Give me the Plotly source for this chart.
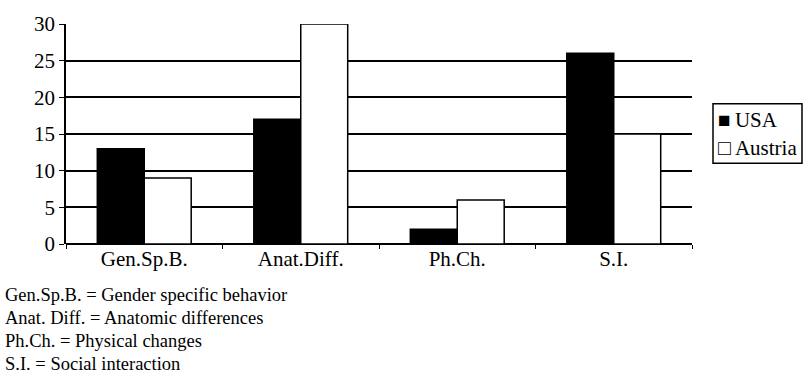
import plotly.graph_objects as go

categories = ["Gen.Sp.B.", "Anat.Diff.", "Ph.Ch.", "S.I."]
usa = [13, 17, 2, 26]
austria = [9, 30, 6, 15]
y_ticks = [0, 5, 10, 15, 20, 25, 30]
series_names = ["USA", "Austria"]
series_symbols = ["■", "□"]
footnotes = [
    "Gen.Sp.B. = Gender specific behavior",
    "Anat. Diff. = Anatomic differences",
    "Ph.Ch. = Physical changes",
    "S.I. = Social interaction",
]

FONT = "Liberation Serif"
L, R, T, B = 66, 111, 15, 148
PW, PH = 803 - L - R, 392 - T - B


def px_x(x):
    return (x - L) / PW


def px_y(y):
    return (392 - B - y) / PH


fig = go.Figure()
fig.add_trace(go.Bar(x=categories, y=usa, name=series_names[0],
                     marker=dict(color="black", line=dict(color="black", width=1.5))))
fig.add_trace(go.Bar(x=categories, y=austria, name=series_names[1],
                     marker=dict(color="white", line=dict(color="black", width=1.5))))

fig.update_layout(
    width=803, height=392,
    margin=dict(l=L, r=R, t=T, b=B),
    paper_bgcolor="white", plot_bgcolor="white",
    barmode="group", bargap=0.4, bargroupgap=0,
    font=dict(family=FONT, color="black", size=21),
    showlegend=False,
)
fig.update_xaxes(
    showline=False, showgrid=False, ticks="outside", tickson="boundaries",
    ticklen=4, tickcolor="black", tickfont=dict(family=FONT, size=21, color="black"),
)
fig.update_yaxes(
    range=[0, 30], tickvals=y_ticks, showgrid=True, gridcolor="black", gridwidth=1.8,
    zeroline=True, zerolinecolor="black", zerolinewidth=2,
    showline=True, linecolor="black", linewidth=1.5,
    ticks="outside", ticklen=5, tickcolor="black",
    tickfont=dict(family=FONT, size=21, color="black"),
)

# legend drawn as a bordered box with two text rows
fig.add_shape(type="rect", xref="paper", yref="paper",
              x0=px_x(713), x1=px_x(802), y0=px_y(160), y1=px_y(98),
              line=dict(color="black", width=1.5), fillcolor="white")
for i, (sym, name) in enumerate(zip(series_symbols, series_names)):
    fig.add_annotation(
        text=f"{sym}\u2009{name}", xref="paper", yref="paper",
        x=px_x(716), y=px_y(115 + i * 29),
        xanchor="left", yanchor="middle", align="left", showarrow=False,
        font=dict(family=FONT, size=21, color="black"),
    )

for i, t in enumerate(footnotes):
    fig.add_annotation(text=t, xref="paper", yref="paper",
                       x=px_x(3), y=px_y(297 + i * 24.1),
                       xanchor="left", yanchor="middle", showarrow=False,
                       font=dict(family=FONT, size=18.5, color="black"))

fig.write_html("out.html")
